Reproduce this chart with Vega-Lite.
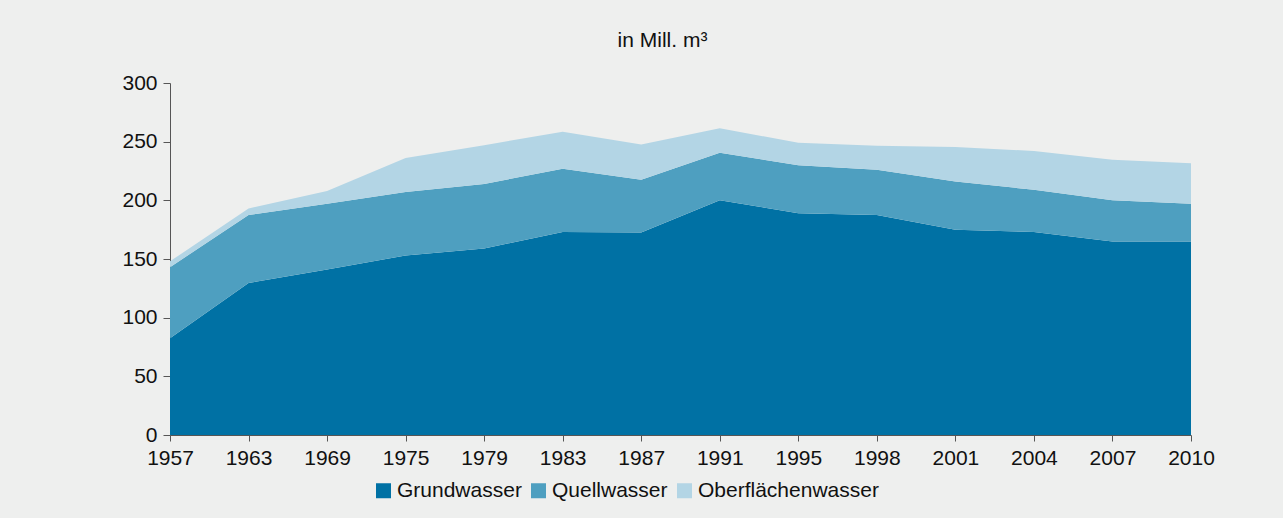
{
  "$schema": "https://vega.github.io/schema/vega-lite/v6.json",
  "width": 1021,
  "height": 352,
  "autosize": {"type": "none"},
  "padding": {"left": 170, "top": 83, "right": 92, "bottom": 83},
  "background": "#EEEFEE",
  "config": {
    "view": {"stroke": null},
    "font": "Liberation Sans"
  },
  "title": {
    "text": "in Mill. m³",
    "fontSize": 21,
    "fontWeight": "normal",
    "color": "#111111",
    "anchor": "middle",
    "offset": 21,
    "dx": -18
  },
  "data": {
    "values": [
      {"Jahr": "1957", "Art": "Grundwasser", "o": 1, "Wert": 82.5},
      {"Jahr": "1963", "Art": "Grundwasser", "o": 1, "Wert": 129.5},
      {"Jahr": "1969", "Art": "Grundwasser", "o": 1, "Wert": 141},
      {"Jahr": "1975", "Art": "Grundwasser", "o": 1, "Wert": 153},
      {"Jahr": "1979", "Art": "Grundwasser", "o": 1, "Wert": 159},
      {"Jahr": "1983", "Art": "Grundwasser", "o": 1, "Wert": 173},
      {"Jahr": "1987", "Art": "Grundwasser", "o": 1, "Wert": 172.5},
      {"Jahr": "1991", "Art": "Grundwasser", "o": 1, "Wert": 200},
      {"Jahr": "1995", "Art": "Grundwasser", "o": 1, "Wert": 189},
      {"Jahr": "1998", "Art": "Grundwasser", "o": 1, "Wert": 187.5},
      {"Jahr": "2001", "Art": "Grundwasser", "o": 1, "Wert": 175},
      {"Jahr": "2004", "Art": "Grundwasser", "o": 1, "Wert": 173},
      {"Jahr": "2007", "Art": "Grundwasser", "o": 1, "Wert": 165},
      {"Jahr": "2010", "Art": "Grundwasser", "o": 1, "Wert": 165},
      {"Jahr": "1957", "Art": "Quellwasser", "o": 2, "Wert": 60.5},
      {"Jahr": "1963", "Art": "Quellwasser", "o": 2, "Wert": 58},
      {"Jahr": "1969", "Art": "Quellwasser", "o": 2, "Wert": 56},
      {"Jahr": "1975", "Art": "Quellwasser", "o": 2, "Wert": 54},
      {"Jahr": "1979", "Art": "Quellwasser", "o": 2, "Wert": 55},
      {"Jahr": "1983", "Art": "Quellwasser", "o": 2, "Wert": 54},
      {"Jahr": "1987", "Art": "Quellwasser", "o": 2, "Wert": 45},
      {"Jahr": "1991", "Art": "Quellwasser", "o": 2, "Wert": 40.5},
      {"Jahr": "1995", "Art": "Quellwasser", "o": 2, "Wert": 41},
      {"Jahr": "1998", "Art": "Quellwasser", "o": 2, "Wert": 38.5},
      {"Jahr": "2001", "Art": "Quellwasser", "o": 2, "Wert": 41},
      {"Jahr": "2004", "Art": "Quellwasser", "o": 2, "Wert": 36},
      {"Jahr": "2007", "Art": "Quellwasser", "o": 2, "Wert": 35},
      {"Jahr": "2010", "Art": "Quellwasser", "o": 2, "Wert": 32},
      {"Jahr": "1957", "Art": "Oberflächenwasser", "o": 3, "Wert": 5},
      {"Jahr": "1963", "Art": "Oberflächenwasser", "o": 3, "Wert": 5.5},
      {"Jahr": "1969", "Art": "Oberflächenwasser", "o": 3, "Wert": 11},
      {"Jahr": "1975", "Art": "Oberflächenwasser", "o": 3, "Wert": 29},
      {"Jahr": "1979", "Art": "Oberflächenwasser", "o": 3, "Wert": 33},
      {"Jahr": "1983", "Art": "Oberflächenwasser", "o": 3, "Wert": 31.5},
      {"Jahr": "1987", "Art": "Oberflächenwasser", "o": 3, "Wert": 30},
      {"Jahr": "1991", "Art": "Oberflächenwasser", "o": 3, "Wert": 21},
      {"Jahr": "1995", "Art": "Oberflächenwasser", "o": 3, "Wert": 19},
      {"Jahr": "1998", "Art": "Oberflächenwasser", "o": 3, "Wert": 20.5},
      {"Jahr": "2001", "Art": "Oberflächenwasser", "o": 3, "Wert": 29.5},
      {"Jahr": "2004", "Art": "Oberflächenwasser", "o": 3, "Wert": 33},
      {"Jahr": "2007", "Art": "Oberflächenwasser", "o": 3, "Wert": 34.5},
      {"Jahr": "2010", "Art": "Oberflächenwasser", "o": 3, "Wert": 34.5}
    ]
  },
  "mark": {"type": "area", "opacity": 1},
  "encoding": {
    "x": {
      "field": "Jahr",
      "type": "ordinal",
      "scale": {"type": "point", "padding": 0},
      "axis": {
        "title": null,
        "labelAngle": 0,
        "labelFontSize": 21,
        "labelColor": "#111111",
        "labelPadding": 6,
        "domainColor": "#555555",
        "tickColor": "#555555",
        "tickSize": 6,
        "grid": false
      }
    },
    "y": {
      "field": "Wert",
      "type": "quantitative",
      "stack": "zero",
      "scale": {"domain": [0, 300], "nice": false},
      "axis": {
        "title": null,
        "values": [0, 50, 100, 150, 200, 250, 300],
        "labelFontSize": 21,
        "labelColor": "#111111",
        "labelPadding": 6,
        "domainColor": "#555555",
        "tickColor": "#555555",
        "tickSize": 7,
        "grid": false
      }
    },
    "color": {
      "field": "Art",
      "type": "nominal",
      "scale": {
        "domain": ["Grundwasser", "Quellwasser", "Oberflächenwasser"],
        "range": ["#0071A4", "#4E9FC0", "#B3D5E5"]
      },
      "legend": {
        "title": null,
        "orient": "none",
        "legendX": 203,
        "legendY": 397,
        "direction": "horizontal",
        "symbolType": "square",
        "symbolSize": 225,
        "symbolStrokeWidth": 0,
        "symbolOpacity": 1,
        "labelFontSize": 21,
        "labelLimit": 400,
        "labelColor": "#111111",
        "columnPadding": 6,
        "labelOffset": 3
      }
    },
    "order": {"field": "o", "type": "quantitative"}
  }
}
